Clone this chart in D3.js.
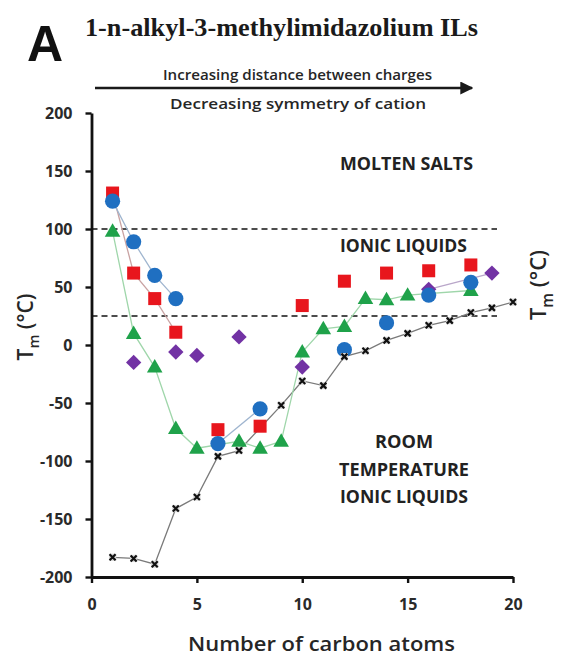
<!DOCTYPE html>
<html>
<head>
<meta charset="utf-8">
<script src="https://cdn.jsdelivr.net/npm/d3@7"></script>
<style>
  html, body { margin: 0; padding: 0; background: #fff; }
  svg { display: block; }
  text { fill: #262626; }
</style>
</head>
<body>
<svg id="chart" width="562" height="657"></svg>
<script>
// Melting points (°C) of 1-n-alkyl-3-methylimidazolium salts vs. alkyl chain length
const redCarbons = [1, 2, 3, 4, 6, 8, 10, 12, 14, 16, 18];
const redTm      = [131, 62, 40, 11, -73, -70, 34, 55, 62, 64, 69];

const blueCarbons = [1, 2, 3, 4, 6, 8, 12, 14, 16, 18];
const blueTm      = [124, 89, 60, 40, -85, -55, -4, 19, 43, 54];

const greenCarbons = [1, 2, 3, 4, 5, 7, 8, 9, 10, 11, 12, 13, 14, 15, 18];
const greenTm      = [98, 10, -19, -72, -89, -83, -89, -83, -6, 14, 16, 40, 39, 43, 47];

const purpleCarbons = [2, 4, 5, 7, 10, 16, 19];
const purpleTm      = [-15, -6, -9, 7, -19, 48, 62];

const blackCarbons = [1, 2, 3, 4, 5, 6, 7, 9, 10, 11, 12, 13, 14, 15, 16, 17, 18, 19, 20];
const blackTm      = [-183, -184, -189, -141, -131, -96, -91, -52, -31, -35, -10, -5, 4, 10, 17, 21, 28, 32, 37];

// Line segments joining points of a series (ranges of carbon numbers)
const redLinked    = [[1, 4]];
const blueLinked   = [[1, 4], [6, 8]];
const purpleLinked = [[16, 19]];

const xTicks = [0, 5, 10, 15, 20];
const yTicks = [-200, -150, -100, -50, 0, 50, 100, 150, 200];
const thresholds = [100, 25];

const svg = d3.select("#chart");
const x = d3.scaleLinear().domain([0, 20]).range([91.5, 513]);
const y = d3.scaleLinear().domain([-200, 200]).range([577, 113]);

const font = "'Open Sans', 'Liberation Sans', sans-serif";

// Panel letter and title
svg.append("text").attr("x", 27).attr("y", 61)
  .style("font-family", "'Liberation Sans', Arial, sans-serif")
  .style("font-weight", "bold").style("font-size", "50px").style("fill", "#111")
  .text("A");
svg.append("text").attr("x", 85).attr("y", 36)
  .attr("textLength", 393).attr("lengthAdjust", "spacingAndGlyphs")
  .style("font-family", "'Liberation Serif', 'Times New Roman', serif")
  .style("font-weight", "bold").style("font-size", "25px").style("fill", "#1a1a1a")
  .text("1-n-alkyl-3-methylimidazolium ILs");

// Trend arrow with captions
svg.append("defs").append("marker")
  .attr("id", "head").attr("viewBox", "0 0 10 10").attr("refX", 9).attr("refY", 5)
  .attr("markerWidth", 5).attr("markerHeight", 5).attr("orient", "auto")
  .append("path").attr("d", "M0,0 L10,5 L0,10 Z").attr("fill", "#1a1a1a");
svg.append("line").attr("x1", 95).attr("x2", 472).attr("y1", 88).attr("y2", 88)
  .attr("stroke", "#1a1a1a").attr("stroke-width", 2.6).attr("marker-end", "url(#head)");
svg.append("text").attr("x", 163).attr("y", 80)
  .attr("textLength", 269).attr("lengthAdjust", "spacingAndGlyphs")
  .style("font-family", font).style("font-weight", 600).style("font-size", "14px")
  .text("Increasing distance between charges");
svg.append("text").attr("x", 170).attr("y", 109)
  .attr("textLength", 256).attr("lengthAdjust", "spacingAndGlyphs")
  .style("font-family", font).style("font-weight", 600).style("font-size", "14px")
  .text("Decreasing symmetry of cation");

// Threshold lines (100 °C and room temperature)
svg.selectAll("line.thr").data(thresholds).join("line").attr("class", "thr")
  .attr("x1", x(0)).attr("x2", 497)
  .attr("y1", d => y(d)).attr("y2", d => y(d))
  .attr("stroke", "#4d4d4d").attr("stroke-width", 2.2).attr("stroke-dasharray", "6,4");

// Region labels
const regionLabel = (tx, ty, len, s) => svg.append("text")
  .attr("x", tx).attr("y", ty).attr("textLength", len).attr("lengthAdjust", "spacingAndGlyphs")
  .style("font-family", font).style("font-weight", "bold").style("font-size", "17px")
  .style("fill", "#222").text(s);
regionLabel(340, 170, 133, "MOLTEN SALTS");
regionLabel(340, 252, 127, "IONIC LIQUIDS");
regionLabel(375, 448, 58, "ROOM");
regionLabel(339, 476, 130, "TEMPERATURE");
regionLabel(340, 503, 128, "IONIC LIQUIDS");

// Series helpers
function zipPts(cs, vs) { return cs.map((c, i) => ({ c, v: vs[i] })); }
const line = d3.line().x(d => x(d.c)).y(d => y(d.v));
function drawLinked(pts, ranges, color) {
  ranges.forEach(([a, b]) => {
    svg.append("path").datum(pts.filter(p => p.c >= a && p.c <= b))
      .attr("d", line).attr("fill", "none").attr("stroke", color).attr("stroke-width", 1.3);
  });
}

const red = zipPts(redCarbons, redTm);
const blue = zipPts(blueCarbons, blueTm);
const green = zipPts(greenCarbons, greenTm);
const purple = zipPts(purpleCarbons, purpleTm);
const black = zipPts(blackCarbons, blackTm);

// Connecting lines
svg.append("path").datum(black).attr("d", line).attr("fill", "none")
  .attr("stroke", "#7a7a7a").attr("stroke-width", 1.3);
svg.append("path").datum(green).attr("d", line).attr("fill", "none")
  .attr("stroke", "#9fd6aa").attr("stroke-width", 1.3);
drawLinked(red, redLinked, "#c9a3a3");
drawLinked(blue, blueLinked, "#9fb5cf");
drawLinked(purple, purpleLinked, "#b9a6c9");

// Markers
svg.selectAll("path.pur").data(purple).join("path").attr("class", "pur")
  .attr("transform", d => `translate(${x(d.c)},${y(d.v)})`)
  .attr("d", d3.symbol(d3.symbolDiamond2, 150)).attr("fill", "#7232a4");
svg.selectAll("path.grn").data(green).join("path").attr("class", "grn")
  .attr("transform", d => `translate(${x(d.c)},${y(d.v) + 1})`)
  .attr("d", d3.symbol(d3.symbolTriangle, 105)).attr("fill", "#1fa24a");
svg.selectAll("rect.red").data(red).join("rect").attr("class", "red")
  .attr("x", d => x(d.c) - 6.5).attr("y", d => y(d.v) - 6.5)
  .attr("width", 13).attr("height", 13).attr("fill", "#e8161d");
svg.selectAll("circle.blu").data(blue).join("circle").attr("class", "blu")
  .attr("cx", d => x(d.c)).attr("cy", d => y(d.v)).attr("r", 7.6).attr("fill", "#1f6fc1");
svg.selectAll("g.blk").data(black).join("g").attr("class", "blk")
  .attr("transform", d => `translate(${x(d.c)},${y(d.v)})`)
  .each(function () {
    const g = d3.select(this);
    g.append("rect").attr("x", -3.6).attr("y", -3.6).attr("width", 7.2).attr("height", 7.2)
      .attr("fill", "#d9d9d9");
    g.append("path").attr("d", "M-3,-3L3,3M-3,3L3,-3")
      .attr("stroke", "#111").attr("stroke-width", 2.2);
  });

// Axes (tick labels use a plain hyphen for negatives)
const fmt = d => String(d);
const xAxis = svg.append("g").attr("transform", `translate(0,${y(-200)})`)
  .call(d3.axisBottom(x).tickValues(xTicks).tickFormat(fmt).tickSize(6).tickPadding(16).tickSizeOuter(0));
const yAxis = svg.append("g").attr("transform", `translate(${x(0)},0)`)
  .call(d3.axisLeft(y).tickValues(yTicks).tickFormat(fmt).tickSize(6).tickPadding(13).tickSizeOuter(0));
[xAxis, yAxis].forEach(a => {
  a.select(".domain").attr("stroke", "#111").attr("stroke-width", 2.8);
  a.selectAll(".tick line").attr("stroke", "#111").attr("stroke-width", 2.4);
  a.selectAll(".tick text").style("font-family", font).style("font-weight", "bold")
    .style("font-size", "16px").style("fill", "#2a2a2a");
});

// Axis titles
svg.append("text").attr("x", 188).attr("y", 651)
  .attr("textLength", 267).attr("lengthAdjust", "spacingAndGlyphs")
  .style("font-family", font).style("font-weight", 600).style("font-size", "20px")
  .text("Number of carbon atoms");

function tmLabel(cx, cy, size) {
  const t = svg.append("text").attr("transform", `translate(${cx},${cy}) rotate(-90)`)
    .attr("text-anchor", "middle")
    .style("font-family", font).style("font-weight", 600).style("font-size", size + "px");
  t.append("tspan").text("T");
  t.append("tspan").attr("dy", size * 0.3).style("font-size", (size * 0.7) + "px").text("m");
  t.append("tspan").attr("dy", -size * 0.3).text(" (°C)");
}
tmLabel(33, 327, 21);
tmLabel(546, 285, 22);
</script>
</body>
</html>
